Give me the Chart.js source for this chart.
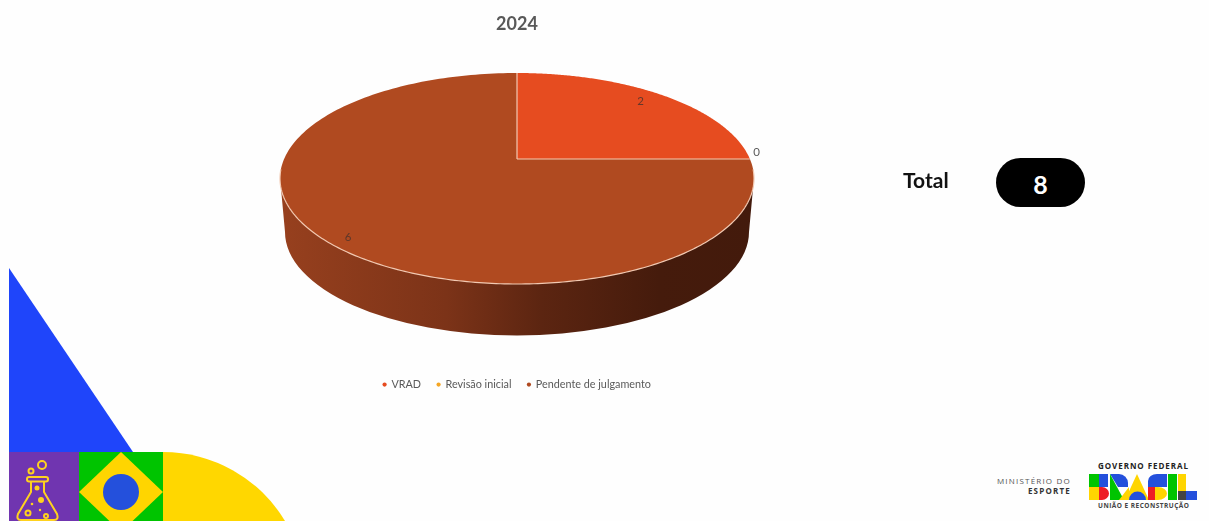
<!DOCTYPE html>
<html>
<head>
<meta charset="utf-8">
<title>2024</title>
<script src="https://cdn.jsdelivr.net/npm/chart.js@4/dist/chart.umd.js"></script>
<style>
html, body { margin: 0; padding: 0; background: #fefefe; overflow: hidden; }
body { width: 1209px; height: 521px; position: relative; font-family: Lato, sans-serif; }
#art { position: absolute; left: 0; top: 0; }
#box { position: absolute; left: 0; top: 0; width: 1034px; height: 521px; }
#totalLabel { position: absolute; left: 903px; top: 165px; font-size: 21px; font-weight: 700; line-height: 30px; color: #111; }
#totalPill { position: absolute; left: 996px; top: 158px; width: 89px; height: 49px; border-radius: 25px; background: #000; color: #fff; font-size: 25px; font-weight: 700; line-height: 52px; text-align: center; }
</style>
</head>
<body>

<svg id="art" width="1209" height="521" viewBox="0 0 1209 521">
  <polygon points="9,268 133,452 9,452" fill="#1f45fa"/>
  <rect x="9" y="452" width="70" height="69" fill="#7035b0"/>
  <rect x="79" y="452" width="84" height="69" fill="#00c400"/>
  <polygon points="121,452 163,492 121,532 79,492" fill="#ffd500"/>
  <circle cx="121" cy="492" r="18" fill="#2450dc"/>
  <path d="M163,452 A142,142 0 0 1 285,521 L163,521 Z" fill="#ffd700"/>

  <g fill="none" stroke="#ffd21e" stroke-width="2">
    <circle cx="42" cy="465" r="4"/>
    <circle cx="31" cy="471" r="2.5"/>
    <rect x="27" y="477" width="21" height="4.5" rx="2"/>
    <path d="M31,482 V492 L18,514 Q16,520 21,520 H54 Q59,520 57,514 L44,492 V482"/>
    <circle cx="28" cy="513" r="2.5"/>
    <circle cx="46" cy="516" r="2"/>
  </g>
  <g fill="#ffd21e">
    <circle cx="37" cy="488" r="2.5"/>
    <circle cx="41" cy="500" r="3"/>
    <circle cx="32" cy="504" r="1.3"/>
    <circle cx="40" cy="510" r="1.2"/>
  </g>

  <g font-family="'Open Sans', sans-serif" text-anchor="end">
    <text x="1071" y="484" font-size="8" letter-spacing="1.2" fill="#555">MINISTÉRIO DO</text>
    <text x="1071" y="494" font-size="8" font-weight="700" letter-spacing="1.2" fill="#333">ESPORTE</text>
  </g>
  <g font-family="'Open Sans', sans-serif" font-weight="700" fill="#222">
    <text x="1098" y="469" font-size="8" textLength="90">GOVERNO FEDERAL</text>
    <text x="1098" y="508" font-size="6.5" textLength="91" fill="#444">UNIÃO E RECONSTRUÇÃO</text>
  </g>

  <!-- BRASIL -->
  <rect x="1089" y="474" width="10" height="13" fill="#00c400"/>
  <rect x="1099" y="474" width="9" height="13" fill="#2450dc"/>
  <rect x="1089" y="487" width="10" height="13" fill="#ffd500"/>
  <path d="M1099,487 h3 a7,6.500 0 0 1 0,13 h-3 Z" fill="#ee1c25"/>
  <path d="M1110,474 h9 a9,9 0 0 1 9,9 v4 h-10 Z" fill="#2450dc"/>
  <polygon points="1110,474 1124,500 1110,500" fill="#00c400"/>
  <polygon points="1119,500 1129,487 1129,500" fill="#ffd500"/>
  <polygon points="1137,474 1149,500 1125,500" fill="#ffd500"/>
  <path d="M1129,500 a8.500,8.500 0 0 1 17,0 Z" fill="#2450dc"/>
  <path d="M1167,474 h-10 a9,7 0 0 0 -9,7 v6 h19 Z" fill="#2450dc"/>
  <rect x="1148" y="487" width="7" height="13" fill="#ee1c25"/>
  <path d="M1155,487 h3 a9,6.500 0 0 1 0,13 h-3 Z" fill="#ffd500"/>
  <rect x="1168" y="474" width="9" height="26" fill="#00c400"/>
  <rect x="1178" y="474" width="8" height="17" fill="#ffd500"/>
  <rect x="1178" y="491" width="8" height="9" fill="#444"/>
  <rect x="1186" y="491" width="11" height="9" fill="#2450dc"/>
</svg>

<div id="box"><canvas id="chart"></canvas></div>

<div id="totalLabel">Total</div>
<div id="totalPill">8</div>

<script>
const labels = ["VRAD", "Revisão inicial", "Pendente de julgamento"];
const values = [2, 0, 6];
const colors = ["#e64c20", "#f5a623", "#b04a20"];

// look of the tilted disc
const rx = 237, ry = 105.5, discY = 178.5;
const tilt = -0.185;
const wallDrop = 53.5, wallRx = 232, wallRy = 103.5;
const rimColor = "#f2c9b2";

function project(cx, angle, r) {
    const x = Math.cos(angle) * r;
    const y = Math.sin(angle) * r;
    const d = 1 + tilt * y;
    return {
        x: cx + rx * Math.sqrt(1 - tilt * tilt) * x / d,
        y: discY + ry * (y + tilt) / d
    };
}

function traceRim(ctx, cx, from, to) {
    const steps = 200;
    for (let s = 0; s <= steps; s++) {
        const p = project(cx, from + (to - from) * s / steps, 1);
        ctx.lineTo(p.x, p.y);
    }
}

// pie whose slices come from the normal controller, only drawn with perspective
class TiltPie extends Chart.PieController {

    draw() {

        const ctx = this.chart.ctx;
        const arcs = this.getMeta().data;
        const cx = arcs[0].x;
        const centre = project(cx, 0, 0);

        // side wall
        const grad = ctx.createLinearGradient(cx - rx, 0, cx + rx, 0);
        grad.addColorStop(0, "#97401e");
        grad.addColorStop(0.35, "#7c3318");
        grad.addColorStop(0.55, "#5c2511");
        grad.addColorStop(0.8, "#451b0c");
        grad.addColorStop(1, "#431a0c");

        ctx.save();
        ctx.beginPath();
        ctx.moveTo(cx - rx + 1, discY + 10);
        ctx.lineTo(cx - wallRx, discY + wallDrop);
        ctx.ellipse(cx, discY + wallDrop, wallRx, wallRy, 0, Math.PI, 0, true);
        ctx.lineTo(cx + rx - 1, discY + 10);
        ctx.closePath();
        ctx.fillStyle = grad;
        ctx.fill();

        // top face
        arcs.forEach((arc, i) => {

            if (values[i] == 0)
                return;

            ctx.beginPath();
            ctx.moveTo(centre.x, centre.y);
            traceRim(ctx, cx, arc.startAngle, arc.endAngle);
            ctx.closePath();
            ctx.fillStyle = colors[i];
            ctx.fill();

        });

        // pale lines: between slices and along the front rim
        ctx.strokeStyle = rimColor;
        ctx.lineWidth = 1.2;

        arcs.forEach((arc, i) => {

            if (values[i] == 0)
                return;

            const p = project(cx, arc.startAngle, 1);
            ctx.beginPath();
            ctx.moveTo(centre.x, centre.y);
            ctx.lineTo(p.x, p.y);
            ctx.stroke();

        });

        ctx.beginPath();
        traceRim(ctx, cx, 0.1, Math.PI - 0.1);
        ctx.stroke();

        // slice values
        const nudge = [[-9, 0], [2, -7], [-1, 5]];

        ctx.font = "11.500px Lato";
        ctx.textAlign = "center";
        ctx.textBaseline = "middle";

        arcs.forEach((arc, i) => {

            const mid = (arc.startAngle + arc.endAngle) / 2;
            const p = project(cx, mid, values[i] == 0 ? 1.02 : 0.9);

            ctx.fillStyle = values[i] == 0 ? "#595959" : "rgba(70,50,45,0.8)";
            ctx.fillText(values[i], p.x + nudge[i][0], p.y + nudge[i][1]);

        });

        ctx.restore();

    }

}

TiltPie.id = "tiltPie";
Chart.register(TiltPie);

new Chart(document.getElementById("chart"), {

    type: "tiltPie",

    data: {

        labels: labels,

        datasets: [

            {

                data: values,

                backgroundColor: colors,

                borderWidth: 0

            }

        ]

    },

    options: {

        responsive: true,

        maintainAspectRatio: false,

        animation: false,

        layout: {

            padding: { top: 6, bottom: 121 }

        },

        plugins: {

            tooltip: { enabled: false },

            title: {

                display: true,

                text: "2024",

                color: "#595959",

                font: { family: "Lato", size: 18, weight: "bold" },

                padding: { top: 7, bottom: 3 }

            },

            legend: {

                position: "bottom",

                labels: {

                    color: "#595959",

                    font: { family: "Lato", size: 10.8 },

                    usePointStyle: true,

                    pointStyle: "circle",

                    boxWidth: 3,

                    boxHeight: 3,

                    padding: 16

                }

            }

        }

    }

});
</script>
</body>
</html>
